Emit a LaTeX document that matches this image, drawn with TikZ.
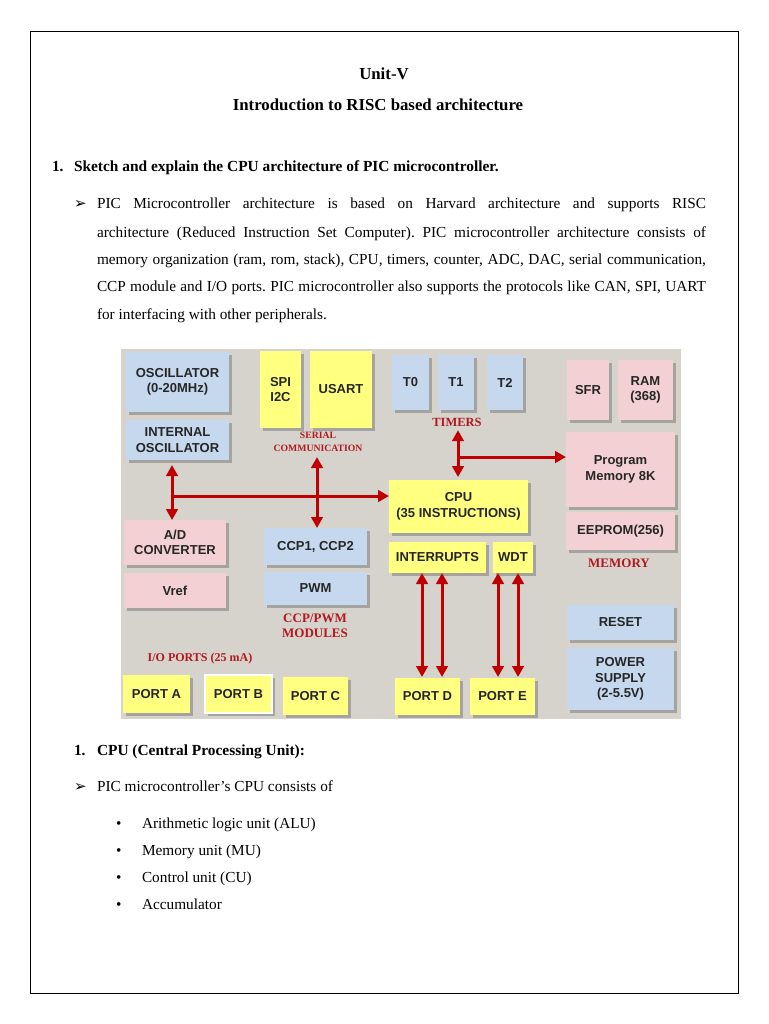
\documentclass[tikz,border=0pt]{standalone}
\usepackage{fontspec}
\setmainfont{Liberation Serif}
\newfontfamily\arialf{Liberation Sans}
\newfontfamily\djv{DejaVu Sans}
\usetikzlibrary{arrows.meta,shadows,calc}
\definecolor{cbg}{RGB}{214,211,205}
\definecolor{cblue}{RGB}{198,216,238}
\definecolor{cpink}{RGB}{242,208,211}
\definecolor{cyel}{RGB}{255,255,128}
\definecolor{cred}{RGB}{192,0,0}
\definecolor{clbl}{RGB}{178,24,30}
\frenchspacing
\begin{document}
\begin{tikzpicture}[x=1pt,y=-1pt,
  every node/.style={inner sep=0pt,outer sep=0pt},
  blk/.style={align=center,font=\arialf\bfseries\fontsize{13}{15.5}\selectfont,text=black!85,
    drop shadow={shadow xshift=2.5pt,shadow yshift=-2.5pt,opacity=0.35,fill=black!70}},
  bluebox/.style={blk,fill=cblue},
  pinkbox/.style={blk,fill=cpink},
  yelbox/.style={blk,fill=cyel},
  lbl/.style={text=clbl,font=\bfseries\fontsize{12.5}{15}\selectfont,align=center},
  arr/.style={draw=cred,line width=3pt,-{Triangle[length=11pt,width=11.5pt]}},
  arrb/.style={draw=cred,line width=3pt,{Triangle[length=11pt,width=11.5pt]}-{Triangle[length=11pt,width=11.5pt]}},
  body/.style={anchor=base west,font=\fontsize{15.3}{18}\selectfont},
  hd/.style={anchor=base west,font=\bfseries\fontsize{15.4}{18}\selectfont},
  bulletmark/.style={anchor=base west,font=\djv\bfseries\fontsize{15}{16}\selectfont}
]
\useasboundingbox (0,0) rectangle (768,1024);
\fill[white] (0,0) rectangle (768,1024);
\draw[line width=0.8pt] (30,31) rectangle (738,993);

% headings
\node[anchor=base,font=\bfseries\fontsize{16.8}{20}\selectfont] (unit) at (384,80) {Unit-V};
\node[anchor=base,font=\bfseries\fontsize{16.8}{20}\selectfont] (intro) at (378,111) {Introduction to RISC based architecture};
\node[hd] (q1n) at (52,172) {1.};
\node[hd] (q1) at (74,172) {Sketch and explain the CPU architecture of PIC microcontroller.};

% paragraph
\node[bulletmark] (m1) at (74,209) {➢};
\node[body] (p1) at (97,209) {\makebox[609pt][s]{PIC Microcontroller architecture is based on Harvard architecture and supports RISC}};
\node[body] (p2) at (97,237) {\makebox[609pt][s]{architecture (Reduced Instruction Set Computer). PIC microcontroller architecture consists of}};
\node[body] (p3) at (97,264) {\makebox[609pt][s]{memory organization (ram, rom, stack), CPU, timers, counter, ADC, DAC, serial communication,}};
\node[body] (p4) at (97,291) {\makebox[609pt][s]{CCP module and I/O ports. PIC microcontroller also supports the protocols like CAN, SPI, UART}};
\node[body] (p5) at (97,319) {for interfacing with other peripherals.};

% diagram background
\fill[cbg] (121,349) rectangle (681,719);

% boxes
\node[bluebox,minimum width=103,minimum height=60] (osc) at (177.5,382) {OSCILLATOR\\(0-20MHz)};
\node[bluebox,minimum width=103,minimum height=40] (iosc) at (177.5,440) {INTERNAL\\OSCILLATOR};
\node[yelbox,minimum width=41,minimum height=77] (spi) at (280.5,389.5) {SPI\\I2C};
\node[yelbox,minimum width=62,minimum height=77] (usart) at (341,389.5) {USART};
\node[bluebox,minimum width=37,minimum height=55] (t0) at (410.5,382.5) {T0};
\node[bluebox,minimum width=36,minimum height=55] (t1) at (456,382.5) {T1};
\node[bluebox,minimum width=36,minimum height=55] (t2) at (505,382.5) {T2};
\node[pinkbox,minimum width=42,minimum height=60] (sfr) at (588,390) {SFR};
\node[pinkbox,minimum width=55,minimum height=60] (ram) at (645.5,390) {RAM\\(368)};
\node[pinkbox,minimum width=109,minimum height=75] (prog) at (620.5,469.5) {Program\\Memory 8K};
\node[yelbox,minimum width=139,minimum height=53] (cpu) at (458.5,506.5) {CPU\\(35 INSTRUCTIONS)};
\node[pinkbox,minimum width=109,minimum height=38] (eeprom) at (620.5,531) {EEPROM(256)};
\node[pinkbox,minimum width=102,minimum height=45] (adc) at (175,542.5) {A/D\\CONVERTER};
\node[pinkbox,minimum width=102,minimum height=35] (vref) at (175,590.5) {Vref};
\node[bluebox,minimum width=103,minimum height=37] (ccp) at (315.5,546.5) {CCP1, CCP2};
\node[bluebox,minimum width=103,minimum height=33] (pwm) at (315.5,588.5) {PWM};
\node[yelbox,minimum width=97,minimum height=31] (int) at (437.5,557.5) {INTERRUPTS};
\node[yelbox,minimum width=40,minimum height=31] (wdt) at (513,557.5) {WDT};
\node[bluebox,minimum width=107,minimum height=35] (reset) at (620.5,622.5) {RESET};
\node[bluebox,minimum width=107,minimum height=62] (power) at (620.5,679) {POWER\\SUPPLY\\(2-5.5V)};
\node[yelbox,minimum width=67,minimum height=38] (porta) at (156.5,694) {PORT A};
\node[yelbox,minimum width=67,minimum height=38,draw=white,line width=1.5pt] (portb) at (238.5,694) {PORT B};
\node[yelbox,minimum width=65,minimum height=38] (portc) at (315.5,696) {PORT C};
\node[yelbox,minimum width=65,minimum height=37] (portd) at (427.5,696.5) {PORT D};
\node[yelbox,minimum width=65,minimum height=37] (porte) at (502.5,696.5) {PORT E};

% labels
\node[lbl,font=\bfseries\fontsize{9.7}{13}\selectfont] (serl) at (318,442) {SERIAL\\COMMUNICATION};
\node[lbl] (tmrl) at (457,422) {TIMERS};
\node[lbl,font=\bfseries\fontsize{13}{15}\selectfont] (ccpl) at (315,625.5) {CCP/PWM\\MODULES};
\node[lbl,font=\bfseries\fontsize{12}{14}\selectfont] (iol) at (200,659) {I/O PORTS (25 mA)};
\node[lbl,font=\bfseries\fontsize{13}{15}\selectfont] (meml) at (619,563) {MEMORY};

% arrows
\coordinate (j1) at (172,496);
\coordinate (j2) at (458,457);
\coordinate (sx) at (317,457);
\coordinate (d1) at (422,0);
\coordinate (d2) at (442,0);
\coordinate (e1) at (498,0);
\coordinate (e2) at (518,0);
\draw[arrb] ([yshift=-5pt]iosc.south -| j1) -- (adc.north -| j1);
\draw[arr] (j1) -- (cpu.west |- j1);
\draw[arrb] (sx) -- (ccp.north -| sx);
\draw[arrb] ([yshift=-4pt]tmrl.south -| j2) -- ([yshift=3pt]cpu.north -| j2);
\draw[arr] (j2) -- (prog.west |- j2);
\draw[arrb] (int.south -| d1) -- ([yshift=1pt]portd.north -| d1);
\draw[arrb] (int.south -| d2) -- ([yshift=1pt]portd.north -| d2);
\draw[arrb] (wdt.south -| e1) -- ([yshift=1pt]porte.north -| e1);
\draw[arrb] (wdt.south -| e2) -- ([yshift=1pt]porte.north -| e2);

% lower text
\node[hd] (q2n) at (74,755) {1.};
\node[hd] (q2) at (97,755) {CPU (Central Processing Unit):};
\node[bulletmark] (m2) at (74,791) {➢};
\node[body] (c0) at (97,791) {PIC microcontroller’s CPU consists of};
\node[body] (u1m) at (116,828) {•};
\node[body] (u1) at (142,828) {Arithmetic logic unit (ALU)};
\node[body] (u2m) at (116,855) {•};
\node[body] (u2) at (142,855) {Memory unit (MU)};
\node[body] (u3m) at (116,882) {•};
\node[body] (u3) at (142,882) {Control unit (CU)};
\node[body] (u4m) at (116,909) {•};
\node[body] (u4) at (142,909) {Accumulator};
\end{tikzpicture}
\end{document}
